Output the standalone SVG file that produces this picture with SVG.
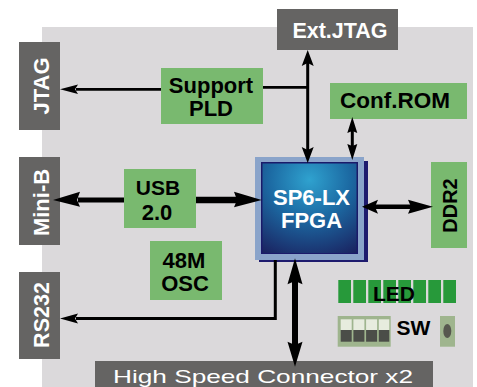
<svg xmlns="http://www.w3.org/2000/svg" width="477" height="387" viewBox="0 0 477 387">
<defs>
<radialGradient id="fpgaGrad" cx="50%" cy="18%" r="95%">
<stop offset="0" stop-color="#2fa2cf"/>
<stop offset="0.45" stop-color="#1c6aa3"/>
<stop offset="1" stop-color="#1a2260"/>
</radialGradient>
</defs>
<style>
.dark{fill:#656463}
.green{fill:#79b96f}
.wt{fill:#ffffff;font-family:"Liberation Sans",Arial,sans-serif;font-weight:bold}
.bt{fill:#000000;font-family:"Liberation Sans",Arial,sans-serif;font-weight:bold}
.ln{stroke:#000;fill:none;stroke-linecap:butt}
.hd{fill:#000}
.led{fill:#27993a}
.swt{fill:#e7ecde}
.swb{fill:#4b4d48}
</style>
<rect x="0" y="0" width="477" height="387" fill="#ffffff"/>
<rect x="42" y="27" width="431" height="360" fill="#dbd9db"/>

<g id="jtag">
<rect class="dark" x="19" y="42" width="41" height="88"/>
<text class="wt" font-size="22" text-anchor="middle" transform="translate(48.5,86) rotate(-90)">JTAG</text>
</g>
<g id="minib">
<rect class="dark" x="19" y="157" width="41" height="88"/>
<text class="wt" font-size="22" text-anchor="middle" transform="translate(48.5,202.5) rotate(-90)">Mini-B</text>
</g>
<g id="rs232">
<rect class="dark" x="19" y="272" width="41" height="87"/>
<text class="wt" font-size="21.5" text-anchor="middle" transform="translate(48.5,315) rotate(-90)">RS232</text>
</g>
<g id="extjtag">
<rect class="dark" x="277" y="9" width="121" height="41"/>
<text class="wt" font-size="21.5" text-anchor="middle" x="340" y="38">Ext.JTAG</text>
</g>
<g id="supportpld">
<rect class="green" x="161" y="68" width="102" height="56"/>
<text class="bt" font-size="22" text-anchor="middle" x="211" y="93">Support</text>
<text class="bt" font-size="22" text-anchor="middle" x="211" y="116">PLD</text>
</g>
<g id="confrom">
<rect class="green" x="330" y="83" width="137" height="36"/>
<text class="bt" font-size="22.5" text-anchor="middle" x="395" y="108">Conf.ROM</text>
</g>
<g id="usb">
<rect class="green" x="124" y="169" width="72" height="59"/>
<text class="bt" font-size="21" text-anchor="middle" x="158" y="195">USB</text>
<text class="bt" font-size="22" text-anchor="middle" x="157" y="220">2.0</text>
</g>
<g id="osc">
<rect class="green" x="150" y="241" width="72" height="59"/>
<text class="bt" font-size="22" text-anchor="middle" x="184" y="268">48M</text>
<text class="bt" font-size="22" text-anchor="middle" x="185" y="291">OSC</text>
</g>
<g id="ddr2">
<rect class="green" x="431" y="162" width="36" height="86"/>
<text class="bt" font-size="20" text-anchor="middle" transform="translate(457,205.5) rotate(-90)">DDR2</text>
</g>
<g id="fpga">
<rect x="259" y="161" width="109" height="101" fill="#1e1b6e"/>
<rect x="255" y="157" width="109" height="103" fill="#8aa4ca"/>
<rect x="261" y="162" width="97" height="92" fill="#1a1a6a"/>
<rect x="262.5" y="163.5" width="94" height="89.5" fill="url(#fpgaGrad)"/>
<text class="wt" font-size="22" text-anchor="middle" x="311.5" y="205">SP6-LX</text>
<text class="wt" font-size="22" text-anchor="middle" x="311.5" y="228">FPGA</text>
</g>
<g id="led">
<rect class="led" x="338.3" y="280" width="12.7" height="23"/>
<rect class="led" x="353.3" y="280" width="12.7" height="23"/>
<rect class="led" x="368.3" y="280" width="12.7" height="23"/>
<rect class="led" x="383.3" y="280" width="12.7" height="23"/>
<rect class="led" x="398.3" y="280" width="12.7" height="23"/>
<rect class="led" x="413.3" y="280" width="12.7" height="23"/>
<rect class="led" x="428.3" y="280" width="12.7" height="23"/>
<rect class="led" x="443.3" y="280" width="12.7" height="23"/>
<text class="bt" font-size="21" text-anchor="middle" x="394" y="301">LED</text>
</g>
<g id="sw">
<rect x="337.7" y="316" width="53" height="30.7" fill="#9fb58e"/>
<rect class="swt" x="340.7" y="319.3" width="11" height="10.7"/>
<rect class="swb" x="340.7" y="330" width="11" height="11.7"/>
<rect class="swt" x="353.4" y="319.3" width="11" height="10.7"/>
<rect class="swb" x="353.4" y="330" width="11" height="11.7"/>
<rect class="swt" x="366.1" y="319.3" width="11" height="10.7"/>
<rect class="swb" x="366.1" y="330" width="11" height="11.7"/>
<rect class="swt" x="378.8" y="319.3" width="10.5" height="10.7"/>
<rect class="swb" x="378.8" y="330" width="10.5" height="11.7"/>
<text class="bt" font-size="21" text-anchor="middle" x="413.5" y="335">SW</text>
</g>
<g id="button">
<rect x="440" y="316" width="15" height="30.7" fill="#9fb58e"/>
<ellipse cx="447.3" cy="331" rx="4" ry="7" fill="#57584f"/>
</g>
<g id="hsconn">
<rect class="dark" x="95" y="361" width="338" height="30"/>
<text class="wt" font-size="18.5" text-anchor="middle" x="263" y="383.2" textLength="300" lengthAdjust="spacingAndGlyphs" style="font-weight:normal">High Speed Connector  x2</text>
</g>

<g id="connectors">
<line class="ln" x1="161" y1="89.3" x2="76" y2="89.3" stroke-width="2.7"/>
<polygon class="hd" points="60,89.3 78,84.5 75,89.3 78,94.1"/>
<line class="ln" x1="263" y1="87.3" x2="308" y2="87.3" stroke-width="2.7"/>
<line class="ln" x1="307.7" y1="62" x2="307.7" y2="150" stroke-width="3"/>
<polygon class="hd" points="307.7,50 313.7,66 307.7,63 301.7,66"/>
<polygon class="hd" points="307.7,163 313.7,147 307.7,150 301.7,147"/>
<line class="ln" x1="352.3" y1="130" x2="352.3" y2="146" stroke-width="3"/>
<polygon class="hd" points="352.3,117 357.3,133 352.3,131 347.3,133"/>
<polygon class="hd" points="352.3,160 357.3,144 352.3,146 347.3,144"/>
<line class="ln" x1="78" y1="200" x2="124" y2="200" stroke-width="5"/>
<polygon class="hd" points="53,200 80,191.7 77,200 80,206.7"/>
<line class="ln" x1="196" y1="200" x2="237" y2="200" stroke-width="6.5"/>
<polygon class="hd" points="261.7,200 234,191.7 237,200 234,207.3"/>
<line class="ln" x1="375" y1="206.7" x2="411" y2="206.7" stroke-width="4.5"/>
<polygon class="hd" points="362,206.7 378,199.7 375,206.7 378,213.7"/>
<polygon class="hd" points="433,206.7 408,199.7 411,206.7 408,213.7"/>
<polyline class="ln" points="275.3,260 275.3,318.5 76,318.5" stroke-width="3"/>
<polygon class="hd" points="60,318.5 78,313.5 75,318.5 78,323.5"/>
<line class="ln" x1="295" y1="281" x2="295" y2="345" stroke-width="6"/>
<polygon class="hd" points="295,258.3 302.5,284.3 295,281 287.5,284.3"/>
<polygon class="hd" points="295,366.7 302.5,341.7 295,345 287.5,341.7"/>
</g>
</svg>
